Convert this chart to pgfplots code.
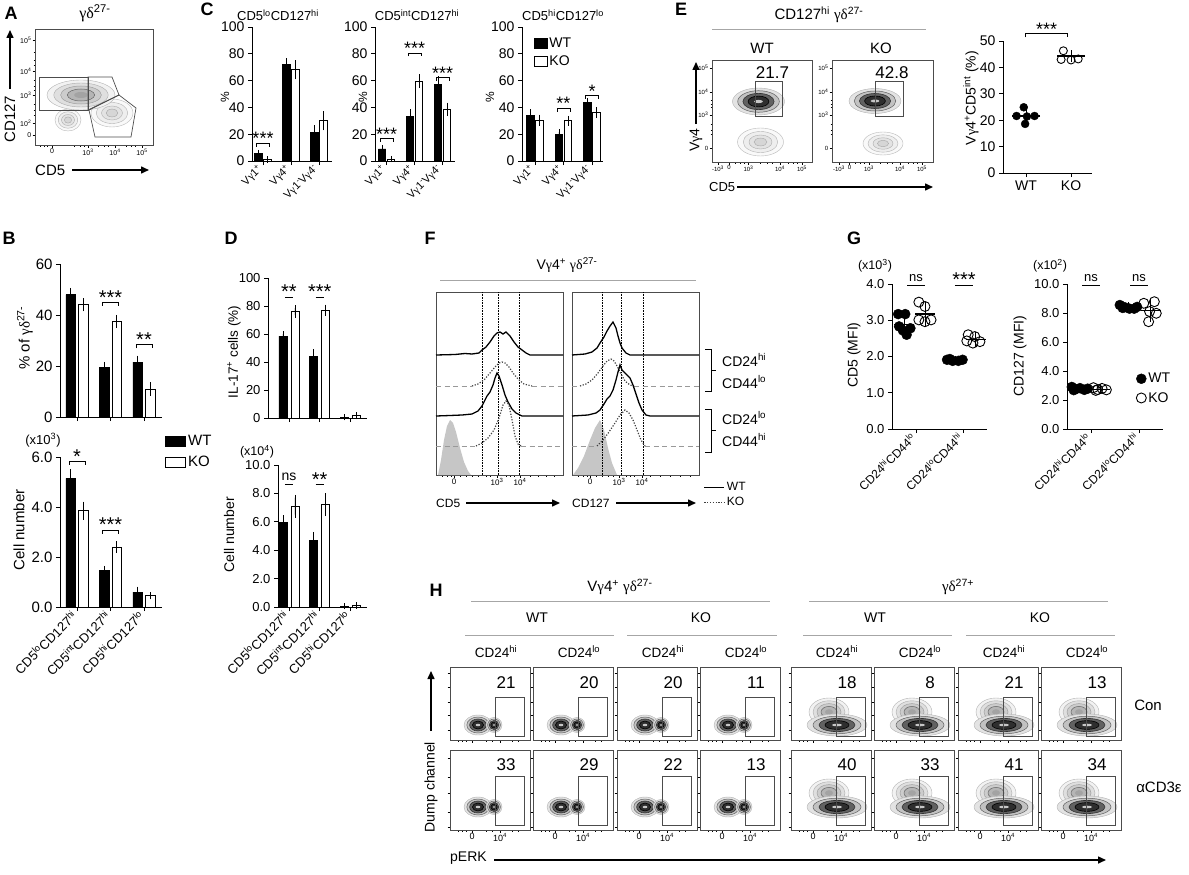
\documentclass[border=0pt]{standalone}
\usepackage{fontspec}
\setmainfont{Liberation Sans}
\newfontfamily\grk{Liberation Serif}
\usepackage{pgfplots}
\pgfplotsset{compat=1.18}
\usetikzlibrary{arrows.meta}

\newcommand\fs[1]{\fontsize{#1}{#1}\selectfont}
\newcommand\g{{\grk γ}}
\newcommand\gdl{{\grk γδ}}
\newcommand\su[1]{\textsuperscript{#1}}
\def\starfs{20}
\def\legw{20pt}

\tikzset{
  arr/.style={line width=1.5pt,-{Triangle[length=8pt,width=7pt]}},
  wtl/.style={black,line width=1.3pt},
  kod/.style={black!75,line width=1.2pt,dash pattern=on 1.2pt off 1.6pt},
  kob/.style={gray!80,line width=0.8pt,dash pattern=on 5pt off 3.5pt},
  gate/.style={gray!60!black,line width=0.7pt},
}

\pgfplotsset{
  bax/.style={scale only axis,anchor=south west,clip=false,axis lines*=left,
    axis line style={line width=0.9pt},tick style={line width=0.9pt,black},
    tick align=outside,major tick length=4pt,enlargelimits=false,
    /pgf/number format/assume math mode=true,ymin=0,xtick={0,1,2}},
  onedec/.style={/pgf/number format/fixed,/pgf/number format/fixed zerofill,/pgf/number format/precision=1},
  wt/.style={ybar,bar shift=0pt,fill=black,draw=black,line width=0.8pt,
    error bars/y dir=both,error bars/y explicit,
    error bars/error bar style={line width=0.9pt,black},
    error bars/error mark options={mark size=2.8pt,line width=0.9pt,black},
    legend image code/.code={\draw[##1,line width=0.9pt] (0pt,-5pt) rectangle (\legw,5pt);}},
  ko/.style={ybar,bar shift=0pt,fill=white,draw=black,line width=0.9pt,
    error bars/y dir=both,error bars/y explicit,
    error bars/error bar style={line width=0.9pt,black},
    error bars/error mark options={mark size=2.8pt,line width=0.9pt,black},
    legend image code/.code={\draw[##1,line width=0.9pt] (0pt,-5pt) rectangle (\legw,5pt);}},
  meanbar/.style={only marks,mark=-,black,line width=1.2pt,
    error bars/y dir=both,error bars/y explicit,
    error bars/error bar style={line width=0.9pt,black},
    error bars/error mark options={mark size=3.5pt,line width=0.9pt,black}},
  flow/.style={scale only axis,anchor=south west,clip=false,
    axis line style={gray!60!black,line width=0.7pt},tick pos=left,tick align=outside,
    tick style={black,line width=0.5pt},major tick length=2.5pt,minor tick length=1.5pt,
    /pgf/number format/assume math mode=true,enlargelimits=false,
    xticklabel style={inner sep=1pt},yticklabel style={inner sep=1pt}},
  flowbox/.code n args={4}{\pgfmathsetmacro\fw{#2-#1}\pgfmathsetmacro\fh{#4-#3}%
    \edef\flowtmp{\noexpand\pgfkeysalso{xmin=#1,xmax=#2,ymin=-#4,ymax=-#3,width=\fw pt,height=\fh pt,at={(#1pt,-#4pt)}}}\flowtmp},
  hrow/.code={\ifnum#1=1 \pgfkeysalso{ytick={-730,-715,-702,-687,-673}}\else\pgfkeysalso{ytick={-827,-812,-793,-777,-758}}\fi},
}

\newcommand\brk[4]{%
  \draw[line width=0.9pt] (axis cs:#1,#2) ++(-#3pt,-3.5pt) -- ++(0pt,3.5pt) -- ++(2*#3pt,0pt) -- ++(0pt,-3.5pt);
  \node[font=\fs{\starfs},anchor=south,inner sep=0pt,yshift=-2pt] at (axis cs:#1,#2) {#4};}
\newcommand\sigS[4]{%
  \draw[line width=0.9pt] (axis cs:#1,#2) ++(-#3pt,0pt) -- ++(2*#3pt,0pt);
  \node[font=\fs{\starfs},anchor=south,inner sep=0pt,yshift=-2pt] at (axis cs:#1,#2) {#4};}
\newcommand\sigN[5]{%
  \draw[line width=0.9pt] (axis cs:#1,#2) ++(-#3pt,0pt) -- ++(2*#3pt,0pt);
  \node[font=\fs{#5},anchor=south,inner sep=0pt,yshift=3pt] at (axis cs:#1,#2) {#4};}

\newcommand\elp[5]{\draw[#5] (axis cs:#1,-#2) ellipse [x radius=#3pt, y radius=#4pt];}
\newcommand\blob[4]{%
  \elp{#1}{#2}{#3}{#4}{gray!60,line width=0.4pt,fill=gray!22}%
  \elp{#1}{#2}{0.8*#3}{0.8*#4}{gray!75!black,line width=0.5pt,fill=gray!48}%
  \elp{#1}{#2}{0.6*#3}{0.6*#4}{black!80,line width=0.6pt,fill=black!62}%
  \elp{#1}{#2}{0.4*#3}{0.4*#4}{black,line width=0.6pt,fill=black!82}%
  \elp{#1}{#2}{0.17*#3}{0.12*#4}{draw=none,fill=gray!45}}
\newcommand\mblob[4]{%
  \elp{#1}{#2}{#3}{#4}{gray!60,line width=0.4pt,fill=gray!10}%
  \elp{#1}{#2}{0.8*#3}{0.8*#4}{gray!65,line width=0.4pt,fill=gray!25}%
  \elp{#1}{#2}{0.6*#3}{0.6*#4}{gray!75,line width=0.5pt,fill=gray!40}%
  \elp{#1}{#2}{0.4*#3}{0.4*#4}{gray!80!black,line width=0.5pt,fill=gray!58}%
  \elp{#1}{#2}{0.2*#3}{0.2*#4}{draw=none,fill=gray!72}}
\newcommand\lblob[4]{%
  \elp{#1}{#2}{#3}{#4}{gray!55,line width=0.4pt,fill=gray!5}%
  \elp{#1}{#2}{0.75*#3}{0.75*#4}{gray!60,line width=0.4pt,fill=gray!13}%
  \elp{#1}{#2}{0.5*#3}{0.5*#4}{gray!65,line width=0.4pt,fill=gray!22}%
  \elp{#1}{#2}{0.28*#3}{0.28*#4}{gray!70,line width=0.4pt,fill=gray!32}}

% H flow box: #1 left, #2 row, #3 number, #4 a/b, #5 x tick labels
\newcommand\Hbox[5]{%
  \pgfmathsetmacro\Hr{#1+80}\pgfmathsetmacro\Hn{#1+56}%
  \pgfmathsetmacro\Hga{#1+45}\pgfmathsetmacro\Hgb{#1+74}%
  \pgfmathsetmacro\Hta{#1+22}\pgfmathsetmacro\Htb{#1+50}%
  \pgfmathsetmacro\Hmi{#1+8}\pgfmathsetmacro\Hmj{#1+12}\pgfmathsetmacro\Hmk{#1+16}%
  \pgfmathsetmacro\Hml{#1+36}\pgfmathsetmacro\Hmm{#1+42}\pgfmathsetmacro\Hmn{#1+62}\pgfmathsetmacro\Hmo{#1+68}%
  \pgfmathsetmacro\Hca{#1+28}\pgfmathsetmacro\Hcb{#1+44}\pgfmathsetmacro\Hcc{#1+46}\pgfmathsetmacro\Hcd{#1+38}%
  \ifnum#2=1 \def\Htop{667}\def\Hbot{740}\def\Hny{683}\def\Hgt{697}\def\Hgd{736}\def\Hcy{725}\def\Hcu{712}%
  \else \def\Htop{750}\def\Hbot{830}\def\Hny{765}\def\Hgt{776}\def\Hgd{825}\def\Hcy{807}\def\Hcu{793}\fi
  \pgfplotsset{hcur/.style/.expanded={xtick={\Hta,\Htb},minor xtick={\Hmi,\Hmj,\Hmk,\Hml,\Hmm,\Hmn,\Hmo}}}%
  \begin{axis}[flow,flowbox={#1}{\Hr}{\Htop}{\Hbot},hcur,hrow=#2,xticklabels={#5},yticklabels={},
      tick label style={font=\fs{9}}]
    \if a#4 \blob{\Hca}{\Hcy}{14}{10}\blob{\Hcb}{\Hcy}{8}{7.5}\else \mblob{\Hcd}{\Hcu}{20}{14}\blob{\Hcc}{\Hcy}{30}{11}\fi
    \draw[gate] (axis cs:\Hga,-\Hgt) rectangle (axis cs:\Hgb,-\Hgd);
    \node[font=\fs{17}] at (axis cs:\Hn,-\Hny) {#3};
  \end{axis}}

\begin{document}
\begin{tikzpicture}
\path[use as bounding box] (0pt,0pt) rectangle (1189pt,-875pt);

% ================= A =================
\begin{axis}[flow,flowbox={35}{153}{29}{145},
  ytick={-135,-123,-95,-71,-40},yticklabels={0,10\su{2},10\su{3},10\su{4},10\su{5}},
  xtick={52,88,115,142},xticklabels={0,10\su{3},10\su{4},10\su{5}},
  minor xtick={40,44,47,74,80,84,98,104,108,126,131,135},
  minor ytick={-52,-60,-65,-80,-86,-90,-104,-110,-115},
  tick label style={font=\fs{7}}]
  \lblob{68}{120}{13}{11}
  \lblob{112}{113}{21}{14}
  \mblob{81}{95}{34}{15}
  \draw[gate] (axis cs:39,-77) rectangle (axis cs:88,-110);
  \draw[gate] (axis cs:88,-77) -- (axis cs:112,-77) -- (axis cs:119,-95) -- (axis cs:88,-110) -- cycle;
  \draw[gate] (axis cs:119,-95) -- (axis cs:136,-108) -- (axis cs:131,-137) -- (axis cs:95,-137) -- (axis cs:89,-110) -- cycle;
\end{axis}

% ================= B =================
\def\legw{20pt}
\begin{axis}[bax,at={(60pt,-417pt)},width=102pt,height=153pt,xmin=-0.507,xmax=2.537,ymax=60,
  ytick={0,20,40,60},xticklabels={},yticklabel style={font=\fs{15}}]
  \addplot[wt,bar width=9.5pt] coordinates {(-0.187,48) +- (0,1.5) (0.813,19.5) +- (0,1) (1.813,21.5) +- (0,1.5)};
  \addplot[ko,bar width=9.5pt] coordinates {(0.187,44) +- (0,1.5) (1.187,37.5) +- (0,1.5) (2.187,11) +- (0,1.5)};
  \brk{1}{45}{8}{***}
  \brk{2}{28.3}{8}{**}
\end{axis}
\begin{axis}[bax,onedec,at={(60pt,-607pt)},width=102pt,height=150pt,xmin=-0.507,xmax=2.537,ymax=6,
  ytick={0,2,4,6},yticklabel style={font=\fs{15}},
  xticklabels={CD5\su{lo}CD127\su{hi},CD5\su{int}CD127\su{hi},CD5\su{hi}CD127\su{lo}},
  xticklabel style={rotate=45,anchor=east,font=\fs{13}},
  legend style={at={(1.03,1.16)},anchor=north west,draw=none,fill=none,font=\fs{15},row sep=5pt,inner sep=0pt},
  legend cell align=left]
  \addplot[wt,bar width=9.5pt] coordinates {(-0.187,5.15) +- (0,0.25) (0.813,1.45) +- (0,0.08) (1.813,0.6) +- (0,0.1)};
  \addlegendentry{WT}
  \addplot[ko,bar width=9.5pt] coordinates {(0.187,3.85) +- (0,0.25) (1.187,2.4) +- (0,0.12) (2.187,0.45) +- (0,0.03)};
  \addlegendentry{KO}
  \brk{0}{5.83}{8}{*}
  \brk{1}{3.08}{8}{***}
\end{axis}

% ================= C =================
\def\starfs{18}
\def\legw{13pt}
\begin{axis}[bax,at={(252pt,-161pt)},width=80pt,height=134pt,xmin=-0.393,xmax=2.464,ymax=100,
  ytick={0,20,40,60,80,100},yticklabel style={font=\fs{14}},
  xticklabels={V\g1\su{+},V\g4\su{+},V\g1\su{-}V\g4\su{-}},
  xticklabel style={rotate=45,anchor=east,font=\fs{11}}]
  \addplot[wt,bar width=7.5pt] coordinates {(-0.161,5.5) +- (0,0.7) (0.839,72) +- (0,2.5) (1.839,21.5) +- (0,3)};
  \addplot[ko,bar width=7.5pt] coordinates {(0.161,1) +- (0,0.3) (1.161,68) +- (0,5) (2.161,30) +- (0,5)};
  \brk{0}{13.4}{6.5}{***}
\end{axis}
\begin{axis}[bax,at={(375pt,-161pt)},width=80pt,height=134pt,xmin=-0.411,xmax=2.446,ymax=100,
  ytick={0,20,40,60,80,100},yticklabel style={font=\fs{14}},
  xticklabels={V\g1\su{+},V\g4\su{+},V\g1\su{-}V\g4\su{-}},
  xticklabel style={rotate=45,anchor=east,font=\fs{11}}]
  \addplot[wt,bar width=7.5pt] coordinates {(-0.161,9) +- (0,1) (0.839,33.5) +- (0,3) (1.839,57) +- (0,4)};
  \addplot[ko,bar width=7.5pt] coordinates {(0.161,1.5) +- (0,0.3) (1.161,59.5) +- (0,3) (2.161,38.5) +- (0,3)};
  \brk{0}{17}{6.5}{***}
  \brk{1}{80.6}{6.5}{***}
  \brk{2}{62.3}{6.5}{***}
\end{axis}
\begin{axis}[bax,at={(522pt,-161pt)},width=81pt,height=134pt,xmin=-0.456,xmax=2.386,ymax=100,
  ytick={0,20,40,60,80,100},yticklabel style={font=\fs{14}},
  xticklabels={V\g1\su{+},V\g4\su{+},V\g1\su{-}V\g4\su{-}},
  xticklabel style={rotate=45,anchor=east,font=\fs{11}},
  legend style={at={(0.14,0.935)},anchor=north west,draw=none,fill=none,font=\fs{14},row sep=3pt,inner sep=0pt},
  legend cell align=left]
  \addplot[wt,bar width=7.5pt] coordinates {(-0.158,34) +- (0,2.5) (0.842,19.5) +- (0,2) (1.842,43.5) +- (0,1.5)};
  \addlegendentry{WT}
  \addplot[ko,bar width=7.5pt] coordinates {(0.158,30.5) +- (0,2) (1.158,30) +- (0,1.5) (2.158,36) +- (0,2)};
  \addlegendentry{KO}
  \brk{1}{39.5}{6.5}{**}
  \brk{2}{49}{6.5}{*}
\end{axis}

% ================= D =================
\def\starfs{20}
\begin{axis}[bax,at={(268pt,-418pt)},width=99pt,height=140pt,xmin=-0.683,xmax=2.54,ymax=100,
  ytick={0,20,40,60,80,100},xticklabels={},yticklabel style={font=\fs{13}}]
  \addplot[wt,bar width=8pt] coordinates {(-0.195,58.5) +- (0,1.5) (0.805,44) +- (0,3) (1.805,0.5) +- (0,0.2)};
  \addplot[ko,bar width=8pt] coordinates {(0.195,76) +- (0,2.5) (1.195,77) +- (0,2) (2.195,1.5) +- (0,0.5)};
  \sigS{0}{86.4}{4}{**}
  \sigS{1}{86.4}{4}{***}
\end{axis}
\begin{axis}[bax,onedec,at={(278pt,-607pt)},width=89pt,height=142pt,xmin=-0.358,xmax=2.54,ymax=10,
  ytick={0,2,4,6,8,10},yticklabel style={font=\fs{13}},
  xticklabels={CD5\su{lo}CD127\su{hi},CD5\su{int}CD127\su{hi},CD5\su{hi}CD127\su{lo}},
  xticklabel style={rotate=45,anchor=east,font=\fs{13}}]
  \addplot[wt,bar width=8pt] coordinates {(-0.195,5.95) +- (0,0.3) (0.805,4.7) +- (0,0.4) (1.805,0.05) +- (0,0.02)};
  \addplot[ko,bar width=8pt] coordinates {(0.195,7.1) +- (0,0.6) (1.195,7.2) +- (0,0.6) (2.195,0.12) +- (0,0.03)};
  \sigN{0}{8.64}{4}{ns}{14}
  \sigS{1}{8.64}{4}{**}
\end{axis}

% ================= E =================
\begin{axis}[flow,flowbox={712}{812}{60}{162},
  ytick={-148,-115,-92,-68},yticklabels={0,10\su{3},10\su{4},10\su{5}},
  xtick={718,729,748.5,780,802},xticklabels={-10\su{3},0,10\su{3},10\su{4},10\su{5}},
  minor xtick={735,740,744,760,767,772,788,793,797},minor ytick={-100,-104,-107,-124,-130,-134},
  tick label style={font=\fs{6}}]
  \lblob{760.5}{142}{23}{14}
  \blob{758.5}{101.5}{26}{13.5}
  \draw[gate] (axis cs:755,-81) rectangle (axis cs:782.6,-116);
\end{axis}
\begin{axis}[flow,flowbox={832}{933}{60}{162},
  ytick={-148,-115,-92,-68},yticklabels={0,10\su{3},10\su{4},10\su{5}},
  xtick={839,849.6,869,900,922},xticklabels={-10\su{3},0,10\su{3},10\su{4},10\su{5}},
  minor xtick={855,860,864,880,887,892,908,913,917},minor ytick={-100,-104,-107,-124,-130,-134},
  tick label style={font=\fs{6}}]
  \lblob{883}{143.5}{20}{11.5}
  \blob{875}{101}{26}{12.5}
  \draw[gate] (axis cs:875,-81) rectangle (axis cs:903,-116);
\end{axis}
\begin{axis}[bax,at={(1003pt,-173pt)},width=88.5pt,height=132pt,xmin=0.489,xmax=2.455,ymax=50,
  ytick={0,10,20,30,40,50},xtick={1,2},xticklabels={WT,KO},tick label style={font=\fs{14}}]
  \addplot[only marks,mark=*,mark size=4pt,black] coordinates {(0.95,24.9) (0.79,21.6) (1.19,21.6) (0.98,18.6) (1.02,21.4)};
  \addplot[only marks,mark=o,mark size=4pt,black,line width=0.9pt] coordinates {(1.83,46.3) (1.78,43.0) (2.0,42.8) (2.16,43.2)};
  \addplot[meanbar,mark size=14pt] coordinates {(1,21.6) +- (0,1.2) (2,44.3) +- (0,0.8)};
  \draw[line width=0.9pt] (axis cs:0.98,52.7) ++(0pt,-3.5pt) -- ++(0pt,3.5pt) -- (axis cs:1.93,52.7) -- ++(0pt,-3.5pt);
  \node[font=\fs{18},anchor=south,inner sep=0pt,yshift=-2pt] at (axis cs:1.46,52.7) {***};
\end{axis}

% ================= F =================
\begin{axis}[flow,flowbox={436}{563}{292}{475},ytick=\empty,
  xtick={454,497,520},xticklabels={0,10\su{3},10\su{4}},
  minor xtick={442,447,451,460,466,472,478,486,490,506,510,514,530,538,546,554},
  tick label style={font=\fs{8}}]
  \addplot[fill=gray!45,draw=none] coordinates {(438,-475) (441,-460) (444,-440) (447,-426) (450,-420) (453,-423) (456,-432) (460,-448) (464,-462) (468,-471) (471,-475)};
  \draw[densely dotted,line width=0.6pt] (axis cs:482,-292) -- (axis cs:482,-475);
  \draw[densely dotted,line width=0.6pt] (axis cs:498,-292) -- (axis cs:498,-475);
  \draw[densely dotted,line width=0.6pt] (axis cs:519,-292) -- (axis cs:519,-475);
  \addplot[wtl] coordinates {(436,-355) (455,-354.5) (465,-353.5) (472,-354) (479,-353) (482,-350) (486,-347) (490,-342) (494,-336) (497,-333) (500,-332) (503,-334) (506,-332) (510,-336) (514,-342) (518,-347) (522,-350) (526,-353) (530,-355) (563,-355)};
  \addplot[kob] coordinates {(436,-386) (472,-386)};
  \addplot[kob] coordinates {(532,-386) (563,-386)};
  \addplot[kod] coordinates {(472,-386) (478,-384) (484,-380) (490,-373) (495,-367) (499,-363) (502,-362) (505,-363) (509,-367) (513,-373) (518,-379) (524,-384) (532,-386)};
  \addplot[wtl] coordinates {(436,-416) (450,-415.5) (462,-415) (472,-414) (478,-411) (482,-406) (485,-400) (487,-396) (490,-392) (493,-385) (495,-378) (497,-373) (499,-376) (502,-385) (505,-395) (508,-402) (512,-409) (516,-413) (522,-416) (563,-416)};
  \addplot[kob] coordinates {(436,-446) (476,-446)};
  \addplot[kob] coordinates {(521,-446) (563,-446)};
  \addplot[kod] coordinates {(476,-446) (482,-443) (488,-438) (494,-430) (499,-418) (503,-405) (506,-401) (509,-405) (512,-420) (515,-436) (518,-444) (521,-446)};
\end{axis}
\begin{axis}[flow,flowbox={572}{699}{292}{475},ytick=\empty,
  xtick={590,619,642},xticklabels={0,10\su{3},10\su{4}},
  minor xtick={578,583,587,596,602,608,613,626,630,634,650,660,670,680,690},
  tick label style={font=\fs{8}},
  legend style={at={(1.035,-0.03)},anchor=north west,draw=none,fill=none,font=\fs{12},row sep=1pt,inner sep=0pt},
  legend cell align=left,legend image code/.code={\draw[#1] (0pt,0pt) -- (20pt,0pt);}]
  \addplot[fill=gray!45,draw=none,forget plot] coordinates {(573,-475) (578,-468) (584,-456) (590,-440) (595,-428) (600,-420) (604,-430) (608,-448) (612,-463) (617,-475)};
  \draw[densely dotted,line width=0.6pt] (axis cs:602,-292) -- (axis cs:602,-475);
  \draw[densely dotted,line width=0.6pt] (axis cs:621,-292) -- (axis cs:621,-475);
  \draw[densely dotted,line width=0.6pt] (axis cs:643,-292) -- (axis cs:643,-475);
  \addplot[wtl] coordinates {(572,-355) (585,-354) (592,-352) (597,-348) (600,-343) (604,-337) (607,-331) (610,-326) (613,-322) (616,-328) (618,-336) (620,-343) (622,-348) (626,-353) (630,-355) (699,-355)};
  \addlegendentry{WT}
  \addplot[kod] coordinates {(580,-386) (586,-384) (592,-380) (598,-373) (603,-366) (607,-361) (611,-359) (614,-361) (617,-366) (621,-374) (625,-381) (630,-385) (634,-386)};
  \addlegendentry{KO}
  \addplot[kob,forget plot] coordinates {(572,-386) (580,-386)};
  \addplot[kob,forget plot] coordinates {(634,-386) (699,-386)};
  \addplot[wtl,forget plot] coordinates {(572,-416) (588,-415) (596,-413) (600,-410) (604,-404) (607,-399) (610,-396) (613,-390) (616,-380) (618,-372) (620,-365) (622,-370) (624,-372) (627,-375) (630,-378) (633,-385) (636,-394) (639,-403) (642,-410) (646,-415) (650,-416) (699,-416)};
  \addplot[kob,forget plot] coordinates {(572,-446) (597,-446)};
  \addplot[kob,forget plot] coordinates {(645,-446) (699,-446)};
  \addplot[kod,forget plot] coordinates {(597,-446) (603,-440) (609,-432) (615,-423) (620,-415) (625,-410) (629,-413) (633,-420) (637,-430) (641,-440) (645,-446)};
\end{axis}

% ================= G =================
\begin{axis}[bax,onedec,at={(892pt,-429pt)},width=95pt,height=145pt,xmin=0.489,xmax=2.51,ymax=4,
  ytick={0,1,2,3,4},xtick={1,2},yticklabel style={font=\fs{13}},
  xticklabels={CD24\su{hi}CD44\su{lo},CD24\su{lo}CD44\su{hi}},
  xticklabel style={rotate=45,anchor=east,font=\fs{12}}]
  \addplot[only marks,mark=*,mark size=5pt,black] coordinates {(0.62,3.17) (0.77,3.17) (0.64,2.83) (0.80,2.60) (0.88,2.78) (0.72,2.72) (1.66,1.91) (1.78,1.88) (1.90,1.88) (1.99,1.91) (1.72,1.93)};
  \addplot[only marks,mark=o,mark size=5pt,black,line width=0.9pt] coordinates {(1.06,3.50) (1.19,3.38) (1.06,3.01) (1.32,3.01) (1.19,2.96) (2.11,2.60) (2.25,2.55) (2.08,2.43) (2.21,2.37) (2.36,2.41)};
  \addplot[meanbar,mark size=10pt] coordinates {(0.745,2.88) +- (0,0.24) (1.19,3.17) +- (0,0.23) (1.83,1.9) +- (0,0.03) (2.27,2.47) +- (0,0.1)};
  \sigN{1}{3.97}{9}{ns}{13}
  \sigS{2.02}{3.97}{9}{***}
\end{axis}
\begin{axis}[bax,onedec,at={(1067pt,-429pt)},width=96pt,height=145pt,xmin=0.5,xmax=2.5,ymax=10,
  ytick={0,2,4,6,8,10},xtick={1,2},yticklabel style={font=\fs{13}},
  xticklabels={CD24\su{hi}CD44\su{lo},CD24\su{lo}CD44\su{hi}},
  xticklabel style={rotate=45,anchor=east,font=\fs{12}},
  legend style={at={(0.72,0.40)},anchor=north west,draw=none,fill=none,font=\fs{14},row sep=4pt,inner sep=0pt},
  legend cell align=left]
  \addplot[only marks,mark=*,mark size=5pt,black] coordinates {(0.60,2.90) (0.68,2.75) (0.77,2.82) (0.86,2.70) (0.64,2.68) (0.93,2.78) (1.60,8.55) (1.70,8.40) (1.80,8.30) (1.90,8.30) (1.66,8.35) (1.96,8.42)};
  \addlegendentry{WT}
  \addplot[only marks,mark=o,mark size=5pt,black,line width=0.9pt] coordinates {(1.05,2.85) (1.14,2.72) (1.23,2.80) (1.32,2.70) (1.10,2.66) (2.10,8.67) (2.32,8.78) (2.22,8.10) (2.36,7.98) (2.20,7.40)};
  \addlegendentry{KO}
  \addplot[meanbar,mark size=10pt,forget plot] coordinates {(0.77,2.77) +- (0,0.08) (1.19,2.75) +- (0,0.08) (1.77,8.39) +- (0,0.1) (2.24,8.19) +- (0,0.55)};
  \sigN{1}{9.93}{9}{ns}{13}
  \sigN{2}{9.93}{9}{ns}{13}
\end{axis}

% ================= H =================
\Hbox{450}{1}{21}{a}{}
\Hbox{533}{1}{20}{a}{}
\Hbox{617}{1}{20}{a}{}
\Hbox{700}{1}{11}{a}{}
\Hbox{791}{1}{18}{b}{}
\Hbox{874}{1}{8}{b}{}
\Hbox{958}{1}{21}{b}{}
\Hbox{1041}{1}{13}{b}{}
\Hbox{450}{2}{33}{a}{0,10\su{4}}
\Hbox{533}{2}{29}{a}{0,10\su{4}}
\Hbox{617}{2}{22}{a}{0,10\su{4}}
\Hbox{700}{2}{13}{a}{0,10\su{4}}
\Hbox{791}{2}{40}{b}{0,10\su{4}}
\Hbox{874}{2}{33}{b}{0,10\su{4}}
\Hbox{958}{2}{41}{b}{0,10\su{4}}
\Hbox{1041}{2}{34}{b}{0,10\su{4}}

% ================= annotations =================
\begin{scope}[x=1pt,y=-1pt]
  \node[font=\bfseries\fs{18}] at (11,13) {A};
  \node[font=\bfseries\fs{18}] at (9,238) {B};
  \node[font=\bfseries\fs{18}] at (207,9) {C};
  \node[font=\bfseries\fs{18}] at (231,238) {D};
  \node[font=\bfseries\fs{18}] at (681,9) {E};
  \node[font=\bfseries\fs{18}] at (430,238) {F};
  \node[font=\bfseries\fs{18}] at (854,238) {G};
  \node[font=\bfseries\fs{18}] at (436,590) {H};
  % A
  \node[font=\fs{16}] at (95,13) {\gdl\su{27-}};
  \node[rotate=90,font=\fs{15}] at (10,119) {CD127};
  \draw[arr] (10,89) -- (10,30);
  \node[font=\fs{15},anchor=west,inner sep=0pt] at (35,170) {CD5};
  \draw[arr] (72,170) -- (149,170);
  % B
  \node[rotate=90,font=\fs{15}] at (25,338) {\% of \gdl\su{27-}};
  \node[rotate=90,font=\fs{15}] at (19,530) {Cell number};
  \node[font=\fs{13}] at (43,440) {(x10\su{3})};
  % C
  \node[font=\fs{13}] at (278,15) {CD5\su{lo}CD127\su{hi}};
  \node[font=\fs{13}] at (417,15) {CD5\su{int}CD127\su{hi}};
  \node[font=\fs{13}] at (563,15) {CD5\su{hi}CD127\su{lo}};
  \node[rotate=90,font=\fs{12}] at (225,97) {\%};
  \node[rotate=90,font=\fs{12}] at (363,97) {\%};
  \node[rotate=90,font=\fs{12}] at (490,97) {\%};
  % D
  \node[rotate=90,font=\fs{13.5}] at (234,352) {IL-17\su{+} cells (\%)};
  \node[rotate=90,font=\fs{14}] at (229,535) {Cell number};
  \node[font=\fs{12.5}] at (257,452) {(x10\su{4})};
  % E
  \node[font=\fs{15}] at (819,15) {CD127\su{hi} \gdl\su{27-}};
  \draw[gray!70,line width=0.8pt] (712,29) -- (926,29);
  \node[font=\fs{15}] at (762,48) {WT};
  \node[font=\fs{15}] at (881,48) {KO};
  \node[font=\fs{17}] at (772.5,73) {21.7};
  \node[font=\fs{17}] at (892,73) {42.8};
  \node[rotate=90,font=\fs{14}] at (696,140) {V\g4};
  \draw[arr] (696,124) -- (696,62);
  \node[font=\fs{13},anchor=west,inner sep=0pt] at (709,187) {CD5};
  \draw[arr] (737,187) -- (933,187);
  \node[rotate=90,font=\fs{14}] at (971,98) {V\g4\su{+}CD5\su{int} (\%)};
  % F
  \node[font=\fs{14}] at (567,265) {V\g4\su{+} \gdl\su{27-}};
  \draw[gray!70,line width=0.8pt] (440,280) -- (696,280);
  \node[font=\fs{12},anchor=west,inner sep=0pt] at (436,503) {CD5};
  \draw[arr] (466,503) -- (560,503);
  \node[font=\fs{12},anchor=west,inner sep=0pt] at (572,503) {CD127};
  \draw[arr] (616,503) -- (696,503);
  \draw[line width=0.9pt] (705,349) -- (711,349) -- (711,391) -- (705,391);
  \draw[line width=0.9pt] (711,370) -- (716,370);
  \draw[line width=0.9pt] (705,409) -- (711,409) -- (711,452) -- (705,452);
  \draw[line width=0.9pt] (711,430.5) -- (716,430.5);
  \node[font=\fs{14},anchor=west,inner sep=0pt] at (722,360) {CD24\su{hi}};
  \node[font=\fs{14},anchor=west,inner sep=0pt] at (722,382) {CD44\su{lo}};
  \node[font=\fs{14},anchor=west,inner sep=0pt] at (722,418) {CD24\su{lo}};
  \node[font=\fs{14},anchor=west,inner sep=0pt] at (722,440) {CD44\su{hi}};
  % G
  \node[rotate=90,font=\fs{14}] at (854,355) {CD5 (MFI)};
  \node[rotate=90,font=\fs{14}] at (1020,356) {CD127 (MFI)};
  \node[font=\fs{12.5}] at (875,266) {(x10\su{3})};
  \node[font=\fs{12.5}] at (1050,266) {(x10\su{2})};
  % H
  \node[font=\fs{15}] at (620,587) {V\g4\su{+} \gdl\su{27-}};
  \draw[gray!70,line width=0.8pt] (471,601) -- (770,601);
  \node[font=\fs{15}] at (958,587) {\gdl\su{27+}};
  \draw[gray!70,line width=0.8pt] (809,601) -- (1108,601);
  \node[font=\fs{14}] at (537,618) {WT};
  \node[font=\fs{14}] at (701,618) {KO};
  \node[font=\fs{14}] at (875,618) {WT};
  \node[font=\fs{14}] at (1040,618) {KO};
  \draw[gray!70,line width=0.8pt] (465,635) -- (614,635);
  \draw[gray!70,line width=0.8pt] (627,635) -- (777,635);
  \draw[gray!70,line width=0.8pt] (803,635) -- (952,635);
  \draw[gray!70,line width=0.8pt] (966,635) -- (1115,635);
  \node[font=\fs{13.5}] at (496,652) {CD24\su{hi}};
  \node[font=\fs{13.5}] at (579,652) {CD24\su{lo}};
  \node[font=\fs{13.5}] at (663,652) {CD24\su{hi}};
  \node[font=\fs{13.5}] at (746,652) {CD24\su{lo}};
  \node[font=\fs{13.5}] at (837,652) {CD24\su{hi}};
  \node[font=\fs{13.5}] at (920,652) {CD24\su{lo}};
  \node[font=\fs{13.5}] at (1004,652) {CD24\su{hi}};
  \node[font=\fs{13.5}] at (1087,652) {CD24\su{lo}};
  \node[font=\fs{15}] at (1148,705) {Con};
  \node[font=\fs{15}] at (1159,787) {αCD3ε};
  \node[rotate=90,font=\fs{14}] at (431,787) {Dump channel};
  \draw[arr] (431,731) -- (431,671);
  \node[font=\fs{14},anchor=west,inner sep=0pt] at (450,858) {pERK};
  \draw[arr] (494,860) -- (1106,860);
\end{scope}
\end{tikzpicture}
\end{document}
